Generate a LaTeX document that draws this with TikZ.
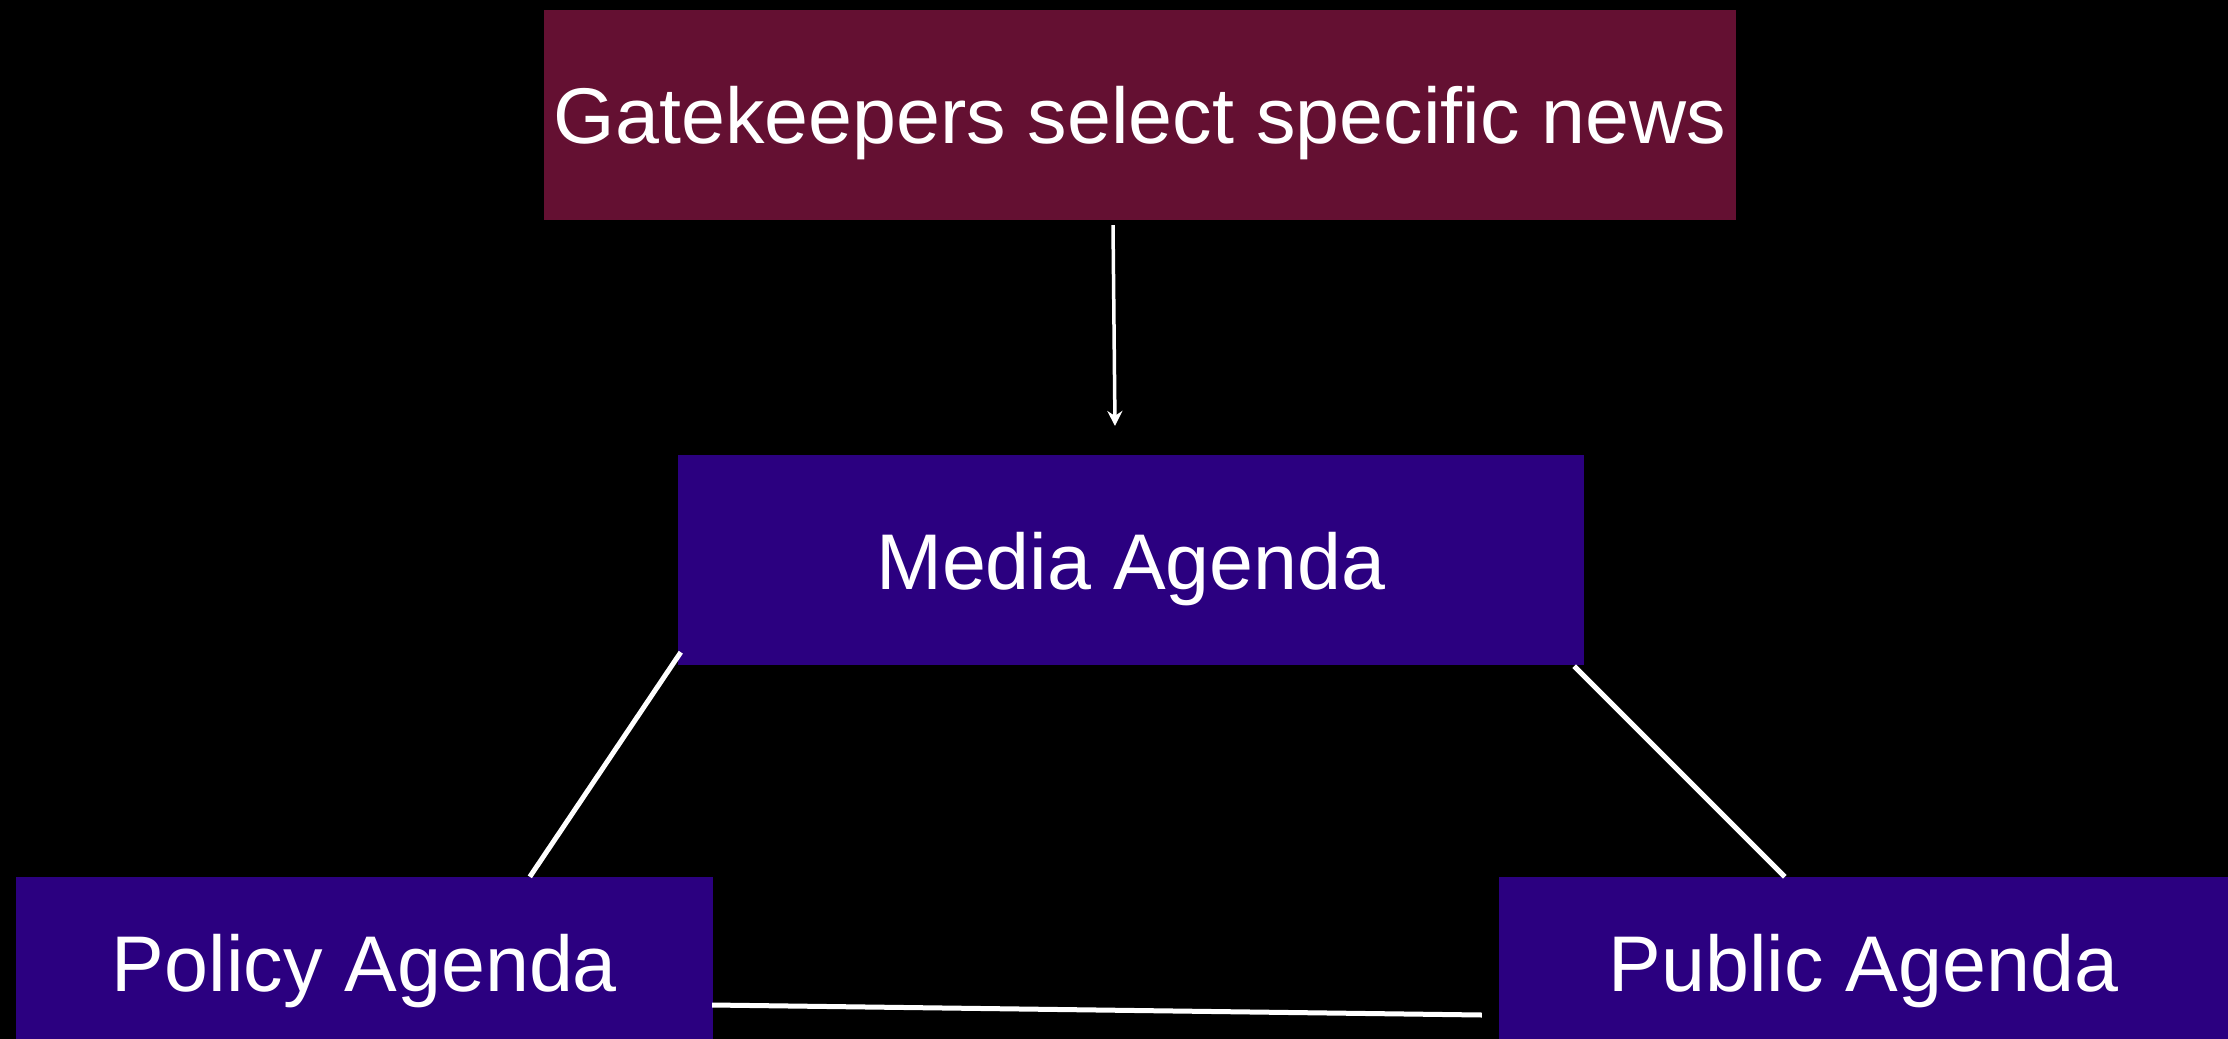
\documentclass[tikz,border=0pt]{standalone}
\usepackage{fontspec}
\setmainfont{Liberation Sans}
\usetikzlibrary{arrows.meta}
\definecolor{gatecol}{RGB}{100,16,50}
\definecolor{agcol}{RGB}{43,0,128}
\begin{document}
\begin{tikzpicture}[x=1pt,y=-1pt,
  box/.style={draw=none,fill=#1,rectangle,inner sep=0pt},
  lbl/.style={text=white,font=\fontsize{79}{90}\selectfont,inner sep=0pt,anchor=base},
  conn/.style={draw=white,line width=5pt},
  arr/.style={draw=white,line width=3.5pt,-{Stealth[length=15pt,width=15pt]}}]
\fill[black] (0,0) rectangle (2228,1039);
\useasboundingbox (0,0) rectangle (2228,1039);
% boxes
\node[box=gatecol,minimum width=1192pt,minimum height=210pt] (gate) at (1140,115) {};
\node[box=agcol,minimum width=906pt,minimum height=210pt] (media) at (1131,560) {};
\node[box=agcol,minimum width=697pt,minimum height=162pt] (policy) at (364.5,958) {};
\node[box=agcol,minimum width=729pt,minimum height=162pt] (public) at (1863.5,958) {};
% labels
\node[lbl] (gatet) at ([yshift=-28pt]gate.center) {Gatekeepers select specific news};
\node[lbl] (mediat) at ([yshift=-29pt]media.center) {Media Agenda};
\node[lbl] (policyt) at ([yshift=-33pt]policy.center) {Policy Agenda};
\node[lbl] (publict) at ([yshift=-33pt]public.center) {Public Agenda};
% connectors
\coordinate (arrtip) at (1115,426);
\draw[arr] ([xshift=-27pt,yshift=-5pt]gate.south) -- (arrtip);
\draw[conn] ([xshift=3pt,yshift=13pt]media.south west) -- ([xshift=514pt]policy.north west);
\draw[conn] ([xshift=-10pt,yshift=-1pt]media.south east) -- ([xshift=286pt]public.north west);
\draw[conn] ([xshift=-1pt,yshift=-47pt]policy.east) -- ([xshift=-17pt,yshift=-57pt]public.west);
\end{tikzpicture}
\end{document}
